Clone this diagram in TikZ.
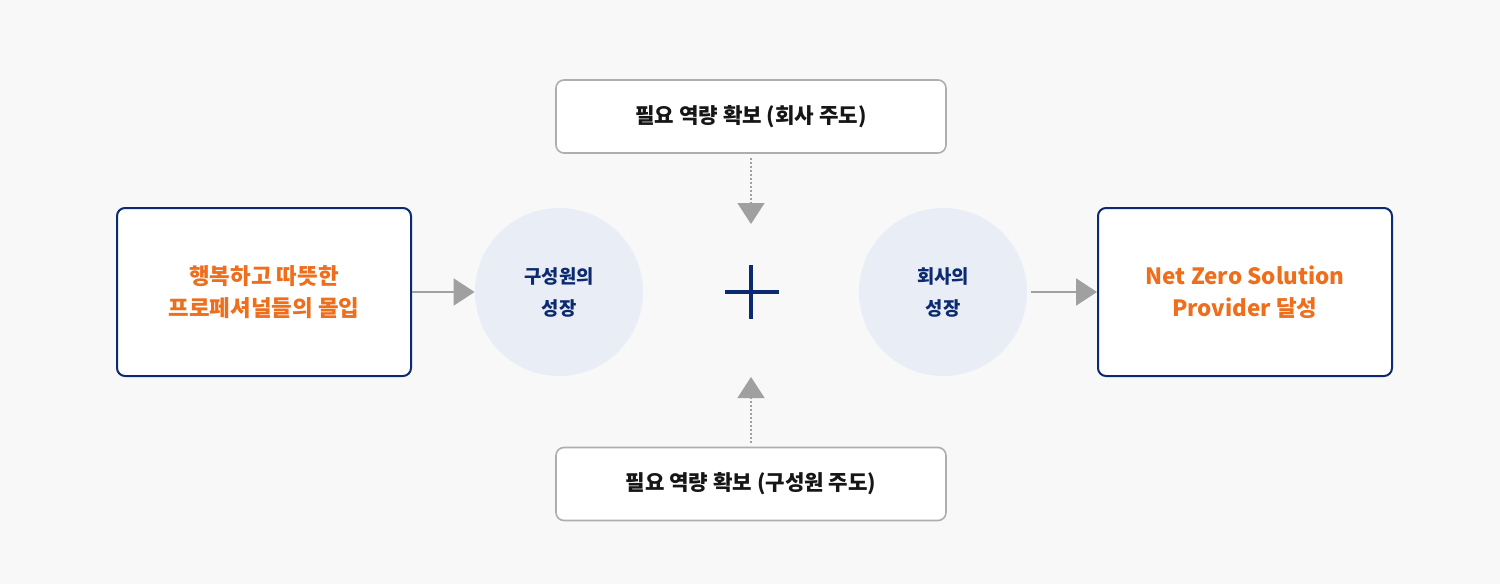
\documentclass[tikz,border=0pt]{standalone}
\usepackage{fontspec}
\setmainfont{Noto Sans CJK KR}
\usepackage{tikz}
\usepackage{xcolor}
\usetikzlibrary{arrows.meta, positioning}

\definecolor{navy}{HTML}{0B2A6F}
\definecolor{accent}{HTML}{EE6E1C}
\definecolor{paleblue}{HTML}{E8EDF6}
\definecolor{bggray}{HTML}{F8F8F8}
\definecolor{linegray}{HTML}{A0A0A0}
\definecolor{ink}{HTML}{161616}

\begin{document}
\begin{tikzpicture}[x=0.5pt, y=-0.5pt,
    mainbox/.style={draw=navy, line width=1pt, fill=white, rounded corners=4pt,
        minimum width=147pt, minimum height=84pt, text=accent, align=center,
        font=\bfseries\fontsize{11.2}{16}\selectfont},
    needbox/.style={draw=linegray!85, line width=0.8pt, fill=white, rounded corners=4pt,
        minimum width=195pt, minimum height=36.5pt, text=ink,
        font=\bfseries\fontsize{10.6}{12}\selectfont},
    growth/.style={circle, fill=paleblue, minimum size=84pt, text=navy, align=center,
        font=\bfseries\fontsize{9.4}{16}\selectfont},
    flow/.style={draw=linegray, line width=1pt, -{Triangle[length=10.5pt, width=13.5pt]}},
    feed/.style={draw=linegray, line width=0.6pt, dash pattern=on 1pt off 1pt,
        -{Triangle[length=10.5pt, width=13.5pt]}}]

    % Background
    \fill[bggray] (0,0) rectangle (1500,584);
    \useasboundingbox (0,0) rectangle (1500,584);

    % Start and goal
    \node[mainbox] (happy) at (264,292) {행복하고 따뜻한\\프로페셔널들의 몰입};
    \node[mainbox] (netzero) at (1245,292) {Net Zero Solution\\Provider 달성};

    % Growth circles
    \node[growth] (member) at (559,292) {구성원의\\성장};
    \node[growth] (company) at (943,292) {회사의\\성장};

    % Plus sign
    \coordinate (plus) at (751,292);
    \draw[navy, line width=1.8pt] (725,292) -- (779,292) (751,265) -- (751,319);
    \coordinate (plustop) at (751,224);
    \coordinate (plusbot) at (751,377);

    % Capability boxes
    \node[needbox] (topneed) at (751,116.5) {필요 역량 확보 (회사 주도)};
    \node[needbox] (botneed) at (751,484) {필요 역량 확보 (구성원 주도)};

    % Arrows
    \draw[flow] (happy.east) -- (member.west);
    \draw[flow, shorten <=2pt] (company.east) -- (netzero.west);
    \draw[feed, shorten <=2pt] (topneed.south) -- (plustop);
    \draw[feed, shorten <=2pt] (botneed.north) -- (plusbot);
\end{tikzpicture}
\end{document}
